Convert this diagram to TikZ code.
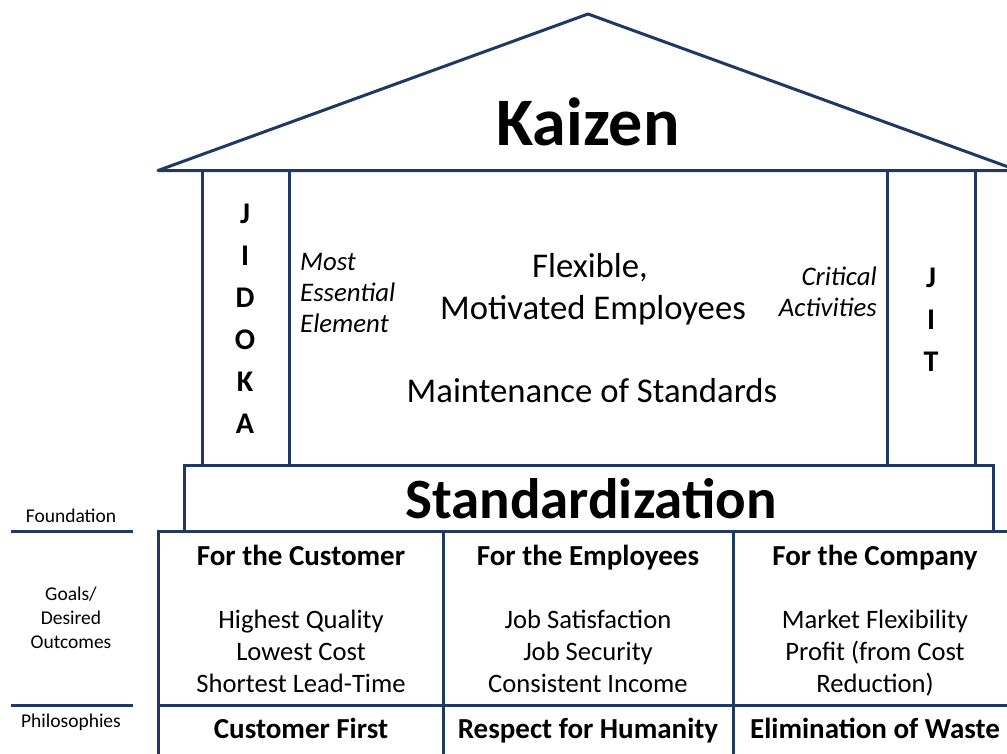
\documentclass[tikz,border=0pt]{standalone}
\usepackage{fontspec}
\setmainfont{Carlito}
\definecolor{navy}{RGB}{31,56,100}
\begin{document}
\begin{tikzpicture}[x=1pt,y=-1pt,
  ln/.style={draw=navy, line width=3pt},
  txt/.style={inner sep=0pt, anchor=base, text=black},
  pillarletter/.style={txt, font=\fontsize{30}{36}\selectfont\bfseries},
  midtxt/.style={txt, font=\fontsize{34.7}{42}\selectfont},
  sidetxt/.style={txt, font=\fontsize{26.8}{32}\selectfont\itshape},
  headtxt/.style={txt, font=\fontsize{29}{35}\selectfont\bfseries},
  bodytxt/.style={txt, font=\fontsize{26.6}{32}\selectfont},
  lefttxt/.style={txt, font=\fontsize{19.5}{24}\selectfont}]
\useasboundingbox (0,0) rectangle (1007,753);
\clip (0,0) rectangle (1007,753);
\fill[white] (0,0) rectangle (1007,753);
% roof
\draw[ln, line join=round] (158,170.5) -- (588,14) -- (1018,170.5) -- cycle;
% pillars
\draw[ln] (202,170.5) -- (202,465) (289,170.5) -- (289,465)
          (887,170.5) -- (887,465) (975,170.5) -- (975,465);
% standardization box
\draw[ln] (184,465) rectangle (993,531);
% table
\draw[ln] (158,770) -- (158,531) -- (1030,531);
\draw[ln] (158,705) -- (1030,705);
\draw[ln] (443,531) -- (443,770) (733,531) -- (733,770);
% left rule lines
\draw[ln] (11,531) -- (133,531) (11,705) -- (133,705);

% texts
\node[txt, font=\fontsize{68}{80}\selectfont\bfseries] (kaizen) at (588,145) {Kaizen};
\node[pillarletter] (j1) at (245,223) {J};
\node[pillarletter] (j2) at (245,265) {I};
\node[pillarletter] (j3) at (245,307) {D};
\node[pillarletter] (j4) at (245,349) {O};
\node[pillarletter] (j5) at (245,391) {K};
\node[pillarletter] (j6) at (245,433) {A};
\node[pillarletter] (t1) at (931,287) {J};
\node[pillarletter] (t2) at (931,329) {I};
\node[pillarletter] (t3) at (931,371) {T};
\node[sidetxt, anchor=base west] (most) at (300,270) {Most};
\node[sidetxt, anchor=base west] (ess) at (300,301) {Essential};
\node[sidetxt, anchor=base west] (elem) at (300,332) {Element};
\node[sidetxt, anchor=base east] (crit) at (877,285) {Critical};
\node[sidetxt, anchor=base east] (act) at (877,316) {Activities};
\node[midtxt] (flex) at (590,277) {Flexible,};
\node[midtxt] (motiv) at (593,319) {Motivated Employees};
\node[midtxt] (maint) at (592,402) {Maintenance of Standards};
\node[txt, font=\fontsize{57}{68}\selectfont\bfseries] (std) at (591,518) {Standardization};
% headers
\node[headtxt] (h1) at (301,565) {For the Customer};
\node[headtxt] (h2) at (588,565) {For the Employees};
\node[headtxt] (h3) at (875,565) {For the Company};
% bodies
\node[bodytxt] (b11) at (301,628) {Highest Quality};
\node[bodytxt] (b12) at (301,660) {Lowest Cost};
\node[bodytxt] (b13) at (301,692) {Shortest Lead-Time};
\node[bodytxt] (b21) at (588,628) {Job Satisfaction};
\node[bodytxt] (b22) at (588,660) {Job Security};
\node[bodytxt] (b23) at (588,692) {Consistent Income};
\node[bodytxt] (b31) at (875,628) {Market Flexibility};
\node[bodytxt] (b32) at (875,660) {Profit (from Cost};
\node[bodytxt] (b33) at (875,692) {Reduction)};
% philosophies
\node[headtxt] (p1) at (301,738) {Customer First};
\node[headtxt] (p2) at (588,738) {Respect for Humanity};
\node[headtxt] (p3) at (875,738) {Elimination of Waste};
% left labels
\node[lefttxt] (found) at (71,522) {Foundation};
\node[lefttxt] (goals) at (71,600) {Goals/};
\node[lefttxt] (des) at (71,624) {Desired};
\node[lefttxt] (out) at (71,648) {Outcomes};
\node[lefttxt] (phil) at (71,727) {Philosophies};
\end{tikzpicture}
\end{document}
